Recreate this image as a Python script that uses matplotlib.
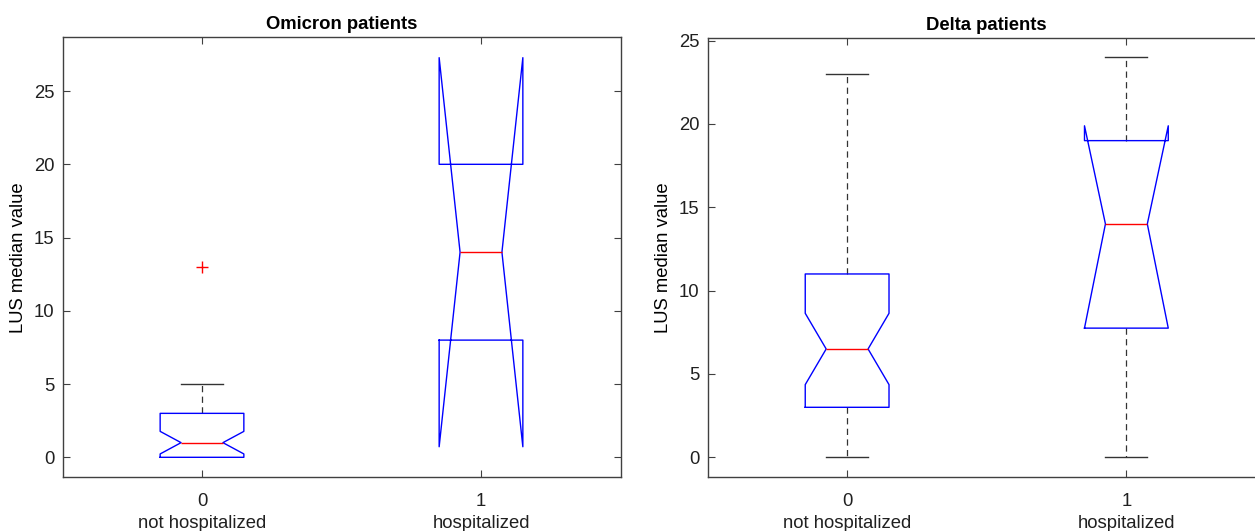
import matplotlib
matplotlib.use('Agg')
import matplotlib.pyplot as plt

plt.rcParams['font.family'] = ['Liberation Sans', 'DejaVu Sans']

# group labels
groups = ['0\nnot hospitalized', '1\nhospitalized']

# Omicron patients (summary values)
om_q1 = [0, 8]
om_med = [1, 14]
om_q3 = [3, 20]
om_whislo = [0, 8]
om_whishi = [5, 20]
om_cilo = [0.23, 0.72]
om_cihi = [1.77, 27.28]
om_fliers = [[13], []]

# Delta patients
de_q1 = [3, 7.75]
de_med = [6.5, 14]
de_q3 = [11, 19]
de_whislo = [0, 0]
de_whishi = [23, 24]
de_cilo = [4.36, 7.75]
de_cihi = [8.64, 19.89]
de_fliers = [[], []]

AX_COL = '#404040'
FS = 13.3


def make_stats(q1, med, q3, lo, hi, cilo, cihi, fliers):
    out = []
    for i in range(len(q1)):
        out.append({'q1': q1[i], 'med': med[i], 'q3': q3[i],
                    'whislo': lo[i], 'whishi': hi[i],
                    'cilo': cilo[i], 'cihi': cihi[i],
                    'fliers': fliers[i], 'label': groups[i]})
    return out


def draw(ax, stats, title, ylim):
    parts = ax.bxp(stats, positions=[1, 2], widths=0.3, capwidths=0.15,
                   shownotches=True,
                   boxprops=dict(color='blue', linewidth=1.0, zorder=3),
                   medianprops=dict(color='red', linewidth=1.0, zorder=4),
                   whiskerprops=dict(color='#333333', linewidth=0.9,
                                     linestyle=(0, (5, 3.5)), zorder=2),
                   capprops=dict(color='#333333', linewidth=1.0, zorder=2),
                   flierprops=dict(marker='+', markeredgecolor='red',
                                   markersize=8, markeredgewidth=1.0))
    # whiskers that end on the box edge are hidden behind it
    for i, st in enumerate(stats):
        if st['whislo'] == st['q1']:
            parts['caps'][2 * i].set_visible(False)
        if st['whishi'] == st['q3']:
            parts['caps'][2 * i + 1].set_visible(False)
    ax.set_xlim(0.5, 2.5)
    ax.set_ylim(*ylim)
    ax.set_xticks([1, 2])
    ax.set_xticklabels(groups, fontsize=FS, linespacing=1.4)
    ax.set_title(title, fontsize=FS, fontweight='bold', pad=6)
    ax.set_ylabel('LUS median value', fontsize=FS, labelpad=5)
    ax.tick_params(direction='in', top=True, right=True, length=5,
                   width=0.8, color=AX_COL, labelsize=FS,
                   labelcolor='#202020')
    ax.tick_params(axis='x', pad=11)
    ax.tick_params(axis='y', pad=6)
    for s in ax.spines.values():
        s.set_color(AX_COL)
        s.set_linewidth(1.0)


fig = plt.figure(figsize=(12.55, 5.31), dpi=100)
W, H = 1255.0, 531.0
ax1 = fig.add_axes([62.5 / W, 1 - 477.3 / H, 558 / W, 440 / H])
ax2 = fig.add_axes([707.5 / W, 1 - 477.3 / H, 558.5 / W, 439 / H])

draw(ax1, make_stats(om_q1, om_med, om_q3, om_whislo, om_whishi,
                     om_cilo, om_cihi, om_fliers),
     'Omicron patients', (-1.365, 28.67))
draw(ax2, make_stats(de_q1, de_med, de_q3, de_whislo, de_whishi,
                     de_cilo, de_cihi, de_fliers),
     'Delta patients', (-1.2, 25.14))

fig.savefig('out.png', dpi=100)
